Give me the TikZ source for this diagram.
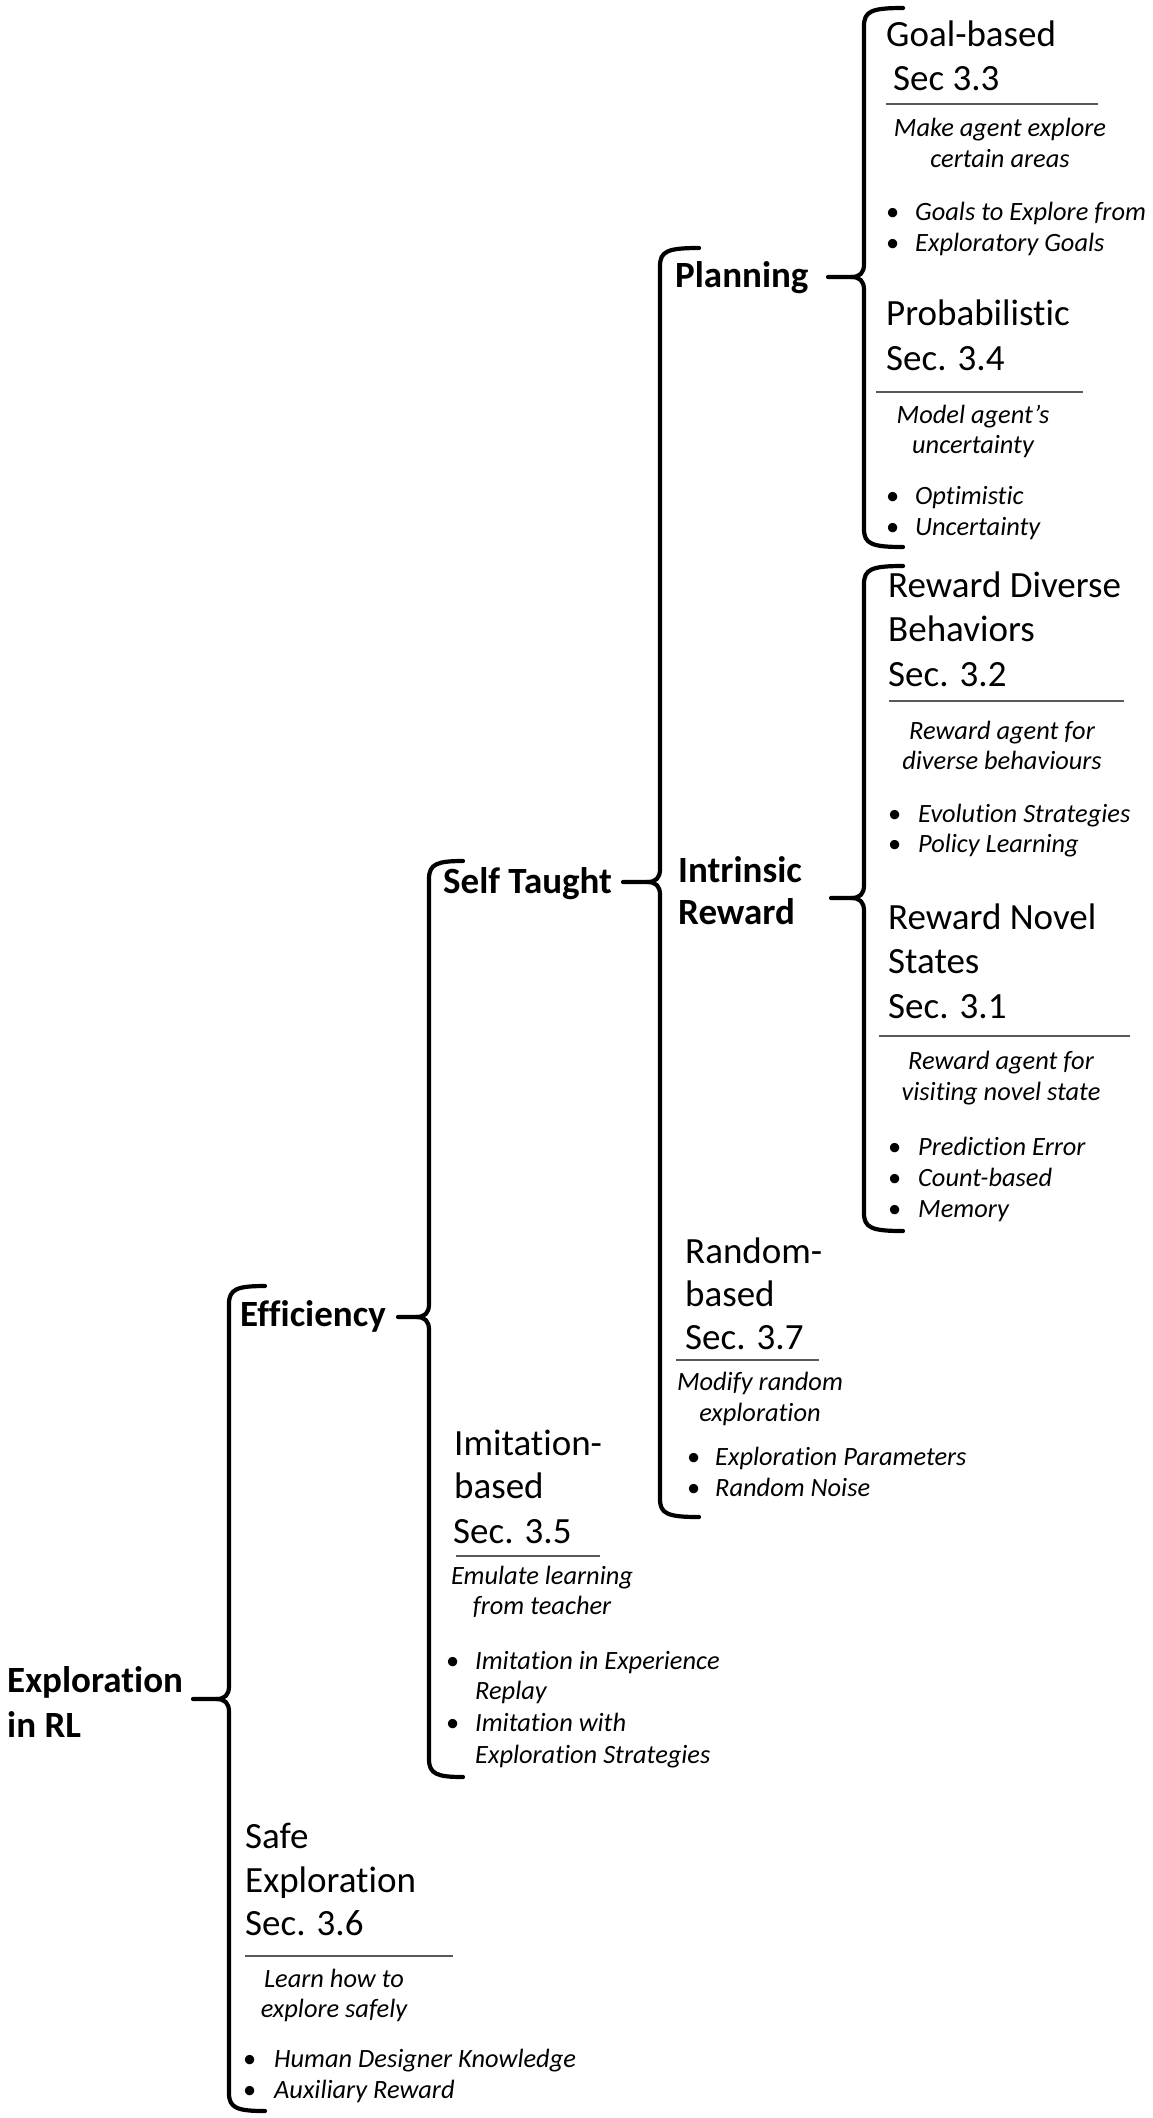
\documentclass[tikz,border=0pt]{standalone}
\usepackage{fontspec}
\setmainfont{Carlito}[Ligatures=NoCommon]
\newcommand\drawbrace[7]{% name, x_v, top, bottom, tipx, tipy, hookx
  \coordinate (#1) at (#5,#6);
  \draw[brace] (#7,#3) .. controls ({#2+8},#3) and (#2,{#3+3}) .. (#2,{#3+18})
     -- (#2,{#6-13}) .. controls (#2,{#6-4}) and ({#2-4},#6) .. ({#2-13},#6) -- (#1);
  \draw[brace] ({#2-13},#6) .. controls ({#2-4},#6) and (#2,{#6+4}) .. (#2,{#6+13})
     -- (#2,{#4-18}) .. controls (#2,{#4-3}) and ({#2+8},#4) .. (#7,#4);
}
\begin{document}
\begin{tikzpicture}[x=1pt,y=-1pt,
  brace/.style={line width=4.2pt,line cap=round,line join=round},
  ttl/.style={anchor=base west,inner sep=0pt,font=\fontsize{37}{44}\selectfont},
  lbl/.style={anchor=base west,inner sep=0pt,font=\fontsize{37}{44}\selectfont\bfseries},
  desc/.style={anchor=base,inner sep=0pt,font=\fontsize{26.4}{31}\selectfont\itshape},
  itm/.style={anchor=base west,inner sep=0pt,font=\fontsize{26.4}{31}\selectfont\itshape},
  bul/.style={anchor=base west,inner sep=0pt,font=\fontsize{26.4}{31}\selectfont},
  sep/.style={line width=1.3pt,black!65}]
\useasboundingbox[fill=white] (0,0) rectangle (1152,2118);

% ---------- braces ----------
\drawbrace{mainTip}{229}{1286}{2111}{193}{1699}{265}
\drawbrace{effTip}{429}{861}{1777}{398}{1317}{463}
\drawbrace{selfTip}{660}{248}{1517}{623}{882}{699}
\drawbrace{planTip}{864}{8}{547}{828}{277}{903}
\drawbrace{intrTip}{864}{566}{1231}{831}{898}{903}

% ---------- bold labels ----------
\node[lbl] (expl1) at (7,1692) {Exploration};
\node[lbl] (expl2) at (7,1737) {in RL};
\node[lbl] (eff) at (240,1326) {Efficiency};
\node[lbl] (self) at (443,893) {Self Taught};
\node[lbl] (plan) at (675,287) {Planning};
\node[lbl] (intr1) at (678,882) {Intrinsic};
\node[lbl] (intr2) at (678,924) {Reward};

% ---------- Goal-based ----------
\node[ttl] (g1) at (886,46) {Goal-based};
\node[ttl] (g2) at (893,90) {Sec 3.3};
\draw[sep] (886,104) -- (1098,104);
\node[desc] (gd1) at (1000,136) {Make agent explore};
\node[desc] (gd2) at (1000,167) {certain areas};
\node[bul] (gb1) at (886,220) {•};
\node[itm] (gi1) at (915,220) {Goals to Explore from};
\node[bul] (gb2) at (886,251) {•};
\node[itm] (gi2) at (915,251) {Exploratory Goals};

% ---------- Probabilistic ----------
\node[ttl] (p1) at (886,325) {Probabilistic};
\node[ttl] (p2) at (886,370) {Sec. 3.4};
\draw[sep] (876,392) -- (1083,392);
\node[desc] (pd1) at (973,423) {Model agent’s};
\node[desc] (pd2) at (973,453) {uncertainty};
\node[bul] (pb1) at (886,504) {•};
\node[itm] (pi1) at (915,504) {Optimistic};
\node[bul] (pb2) at (886,535) {•};
\node[itm] (pi2) at (915,535) {Uncertainty};

% ---------- Reward Diverse Behaviors ----------
\node[ttl] (d1) at (888,597) {Reward Diverse};
\node[ttl] (d2) at (888,641) {Behaviors};
\node[ttl] (d3) at (888,686) {Sec. 3.2};
\draw[sep] (889,701) -- (1124,701);
\node[desc] (dd1) at (1002,739) {Reward agent for};
\node[desc] (dd2) at (1002,769) {diverse behaviours};
\node[bul] (db1) at (888,822) {•};
\node[itm] (di1) at (918,822) {Evolution Strategies};
\node[bul] (db2) at (888,852) {•};
\node[itm] (di2) at (918,852) {Policy Learning};

% ---------- Reward Novel States ----------
\node[ttl] (n1) at (888,929) {Reward Novel};
\node[ttl] (n2) at (888,973) {States};
\node[ttl] (n3) at (888,1018) {Sec. 3.1};
\draw[sep] (879,1036) -- (1130,1036);
\node[desc] (nd1) at (1001,1069) {Reward agent for};
\node[desc] (nd2) at (1001,1100) {visiting novel state};
\node[bul] (nb1) at (888,1155) {•};
\node[itm] (ni1) at (918,1155) {Prediction Error};
\node[bul] (nb2) at (888,1186) {•};
\node[itm] (ni2) at (918,1186) {Count-based};
\node[bul] (nb3) at (888,1217) {•};
\node[itm] (ni3) at (918,1217) {Memory};

% ---------- Random-based ----------
\node[ttl] (r1) at (685,1263) {Random-};
\node[ttl] (r2) at (685,1306) {based};
\node[ttl] (r3) at (685,1349) {Sec. 3.7};
\draw[sep] (676,1360) -- (819,1360);
\node[desc] (rd1) at (760,1390) {Modify random};
\node[desc] (rd2) at (760,1421) {exploration};
\node[bul] (rb1) at (687,1465) {•};
\node[itm] (ri1) at (715,1465) {Exploration Parameters};
\node[bul] (rb2) at (687,1496) {•};
\node[itm] (ri2) at (715,1496) {Random Noise};

% ---------- Imitation-based ----------
\node[ttl] (m1) at (454,1455) {Imitation-};
\node[ttl] (m2) at (454,1498) {based};
\node[ttl] (m3) at (453,1543) {Sec. 3.5};
\draw[sep] (456,1556) -- (600,1556);
\node[desc] (md1) at (542,1584) {Emulate learning};
\node[desc] (md2) at (542,1614) {from teacher};
\node[bul] (mb1) at (446,1669) {•};
\node[itm] (mi1) at (475,1669) {Imitation in Experience};
\node[itm] (mi1b) at (475,1699) {Replay};
\node[bul] (mb2) at (446,1731) {•};
\node[itm] (mi2) at (475,1731) {Imitation with};
\node[itm] (mi2b) at (475,1763) {Exploration Strategies};

% ---------- Safe Exploration ----------
\node[ttl] (s1) at (245,1848) {Safe};
\node[ttl] (s2) at (245,1892) {Exploration};
\node[ttl] (s3) at (245,1935) {Sec. 3.6};
\draw[sep] (245,1956) -- (453,1956);
\node[desc] (sd1) at (334,1987) {Learn how to};
\node[desc] (sd2) at (334,2017) {explore safely};
\node[bul] (sb1) at (243,2067) {•};
\node[itm] (si1) at (274,2067) {Human Designer Knowledge};
\node[bul] (sb2) at (243,2098) {•};
\node[itm] (si2) at (274,2098) {Auxiliary Reward};
\end{tikzpicture}
\end{document}
